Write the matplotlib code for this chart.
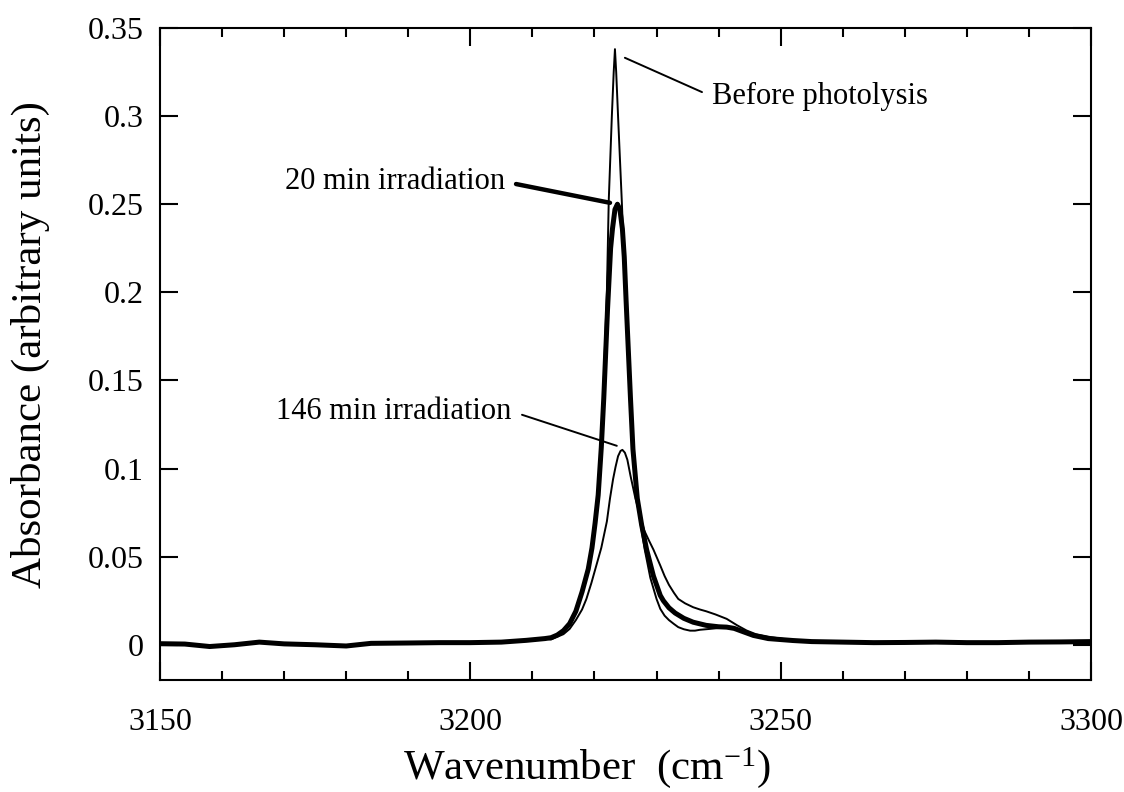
import matplotlib
matplotlib.use("Agg")
import matplotlib.pyplot as plt
from matplotlib.ticker import MultipleLocator

plt.rcParams['font.family'] = ['Liberation Serif', 'DejaVu Serif']
plt.rcParams['mathtext.fontset'] = 'custom'
plt.rcParams['mathtext.rm'] = 'Liberation Serif'
plt.rcParams['mathtext.it'] = 'Liberation Serif:italic'

# Shared baseline readings (cm-1, absorbance)
base_wn = [3150, 3154, 3158, 3162, 3166, 3170, 3175, 3180, 3184, 3190,
           3195, 3200, 3205, 3209, 3212]
base_ab = [0.0006, 0.0004, -0.0010, 0.0000, 0.0015, 0.0005, 0.0000, -0.0007,
           0.0008, 0.0010, 0.0012, 0.0012, 0.0015, 0.0025, 0.0035]

tail_wn = [3255, 3260, 3265, 3270, 3275, 3280, 3285, 3290, 3295, 3300]
tail_ab = [0.0018, 0.0015, 0.0012, 0.0013, 0.0015, 0.0012, 0.0012, 0.0015,
           0.0016, 0.0018]

# Before photolysis
before_wn = base_wn + [3213, 3214, 3215, 3216, 3217, 3218, 3219, 3219.6,
                       3220.1, 3220.6, 3221.1, 3221.4, 3222.0, 3222.3, 3222.8,
                       3223.1, 3223.3, 3223.5, 3223.8, 3224.4, 3225.0, 3225.7,
                       3226.2, 3226.9, 3227.5, 3228.1, 3229.0, 3230.0, 3230.6,
                       3231.3, 3232.0, 3232.8, 3233.5, 3234.4, 3235.4, 3236.2,
                       3237.0, 3238.6, 3240.0, 3241.0, 3242.0, 3243.5, 3245.0,
                       3247.0, 3250.0] + tail_wn
before_ab = base_ab + [0.0040, 0.0055, 0.0075, 0.0120, 0.0190, 0.0300, 0.0430,
                       0.0550, 0.0690, 0.0850, 0.1120, 0.1400, 0.2000, 0.2520,
                       0.3000, 0.3250, 0.3380, 0.3250, 0.3000, 0.2520, 0.2000,
                       0.1390, 0.1100, 0.0830, 0.0670, 0.0540, 0.0380, 0.0260,
                       0.0204, 0.0165, 0.0140, 0.0118, 0.0100, 0.0088, 0.0080,
                       0.0080, 0.0085, 0.0090, 0.0095, 0.0097, 0.0095, 0.0080,
                       0.0062, 0.0045, 0.0030] + tail_ab

# 20 min irradiation
min20_wn = base_wn + [3213, 3214, 3215, 3216, 3217, 3218, 3219, 3219.6,
                      3220.1, 3220.6, 3221.1, 3221.5, 3222.1, 3222.6, 3222.9,
                      3223.3, 3223.7, 3224.1, 3224.5, 3224.8, 3225.1, 3225.8,
                      3226.2, 3226.9, 3227.6, 3228.4, 3229.5, 3230.6, 3231.1,
                      3232.0, 3233.0, 3234.4, 3235.9, 3238.0, 3240.0, 3241.3,
                      3242.5, 3243.5, 3245.6, 3248.0, 3252.0] + tail_wn
min20_ab = base_ab + [0.0040, 0.0055, 0.0080, 0.0120, 0.0190, 0.0300, 0.0430,
                      0.0550, 0.0690, 0.0850, 0.1120, 0.1400, 0.1900, 0.2250,
                      0.2360, 0.2470, 0.2500, 0.2470, 0.2360, 0.2200, 0.1950,
                      0.1400, 0.1110, 0.0830, 0.0680, 0.0540, 0.0390, 0.0280,
                      0.0250, 0.0210, 0.0180, 0.0150, 0.0128, 0.0110, 0.0102,
                      0.0100, 0.0093, 0.0080, 0.0053, 0.0035, 0.0024] + tail_ab

# 146 min irradiation
min146_wn = base_wn + [3213, 3215, 3216, 3217, 3218, 3218.7, 3219.5, 3220.3,
                       3221.1, 3222.0, 3222.5, 3223.0, 3223.4, 3223.8, 3224.2,
                       3224.5, 3224.9, 3225.3, 3225.8, 3226.6, 3227.3, 3228.0,
                       3228.8, 3229.5, 3230.6, 3231.3, 3232.0, 3232.8, 3233.5,
                       3234.6, 3235.9, 3237.0, 3238.0, 3239.5, 3241.3, 3243.0,
                       3244.5, 3246.0, 3248.3, 3252.0] + tail_wn
min146_ab = base_ab + [0.0030, 0.0060, 0.0090, 0.0140, 0.0200, 0.0260, 0.0350,
                       0.0450, 0.0550, 0.0700, 0.0830, 0.0940, 0.1010, 0.1070,
                       0.1100, 0.1106, 0.1090, 0.1050, 0.0960, 0.0830, 0.0740,
                       0.0650, 0.0590, 0.0540, 0.0450, 0.0390, 0.0340, 0.0295,
                       0.0260, 0.0235, 0.0213, 0.0200, 0.0190, 0.0172, 0.0147,
                       0.0110, 0.0081, 0.0060, 0.0044, 0.0025] + tail_ab

x_ticks = [3150, 3200, 3250, 3300]
y_ticks = [0, 0.05, 0.1, 0.15, 0.2, 0.25, 0.3, 0.35]
y_tick_labels = ['0', '0.05', '0.1', '0.15', '0.2', '0.25', '0.3', '0.35']

W, H = 1124, 792
fig = plt.figure(figsize=(W / 100, H / 100), dpi=100)
ax = fig.add_axes([160 / W, 1 - 680 / H, 931 / W, 652 / H])

ax.plot(before_wn, before_ab, color='black', lw=1.4, solid_joinstyle='round')
ax.plot(min146_wn, min146_ab, color='black', lw=1.4, solid_joinstyle='round')
ax.plot(min20_wn, min20_ab, color='black', lw=3.6, solid_capstyle='round',
        solid_joinstyle='round')

ax.set_xlim(3150, 3300)
ax.set_ylim(-0.02, 0.35)
ax.set_xticks(x_ticks)
ax.xaxis.set_minor_locator(MultipleLocator(10))
ax.set_yticks(y_ticks)
ax.set_yticklabels(y_tick_labels)

ax.tick_params(which='both', direction='in', top=True, right=True, width=1.5)
ax.tick_params(which='major', length=13, labelsize=23)
ax.tick_params(which='minor', length=6.5)
ax.tick_params(axis='y', pad=12)
ax.tick_params(axis='x', pad=20)
for s in ax.spines.values():
    s.set_linewidth(1.5)

# Axis titles
fig.text(587 / W, 1 - 768 / H, 'Wavenumber  (cm$^{-1}$)', fontsize=31,
         ha='center', va='center')
fig.text(30 / W, 1 - 345 / H, 'Absorbance (arbitrary units)', fontsize=31,
         ha='center', va='center', rotation=90)

ann_kw = dict(fontsize=22, color='black')
ax.annotate('Before photolysis', xy=(3224.9, 0.3331), xytext=(3239.0, 0.311),
            ha='left', va='center',
            arrowprops=dict(arrowstyle='-', lw=1.4, color='black',
                            shrinkA=6, shrinkB=0, relpos=(0, 0.5)),
            **ann_kw)
ax.annotate('20 min irradiation', xy=(3222.5, 0.2508), xytext=(3205.6, 0.2627),
            ha='right', va='center',
            arrowprops=dict(arrowstyle='-', lw=3.2, color='black',
                            shrinkA=6, shrinkB=0, relpos=(1, 0.5)),
            **ann_kw)
ax.annotate('146 min irradiation', xy=(3223.6, 0.1129), xytext=(3206.6, 0.1325),
            ha='right', va='center',
            arrowprops=dict(arrowstyle='-', lw=1.4, color='black',
                            shrinkA=6, shrinkB=0, relpos=(1, 0.5)),
            **ann_kw)

fig.savefig('out.png', dpi=100, facecolor='white')
